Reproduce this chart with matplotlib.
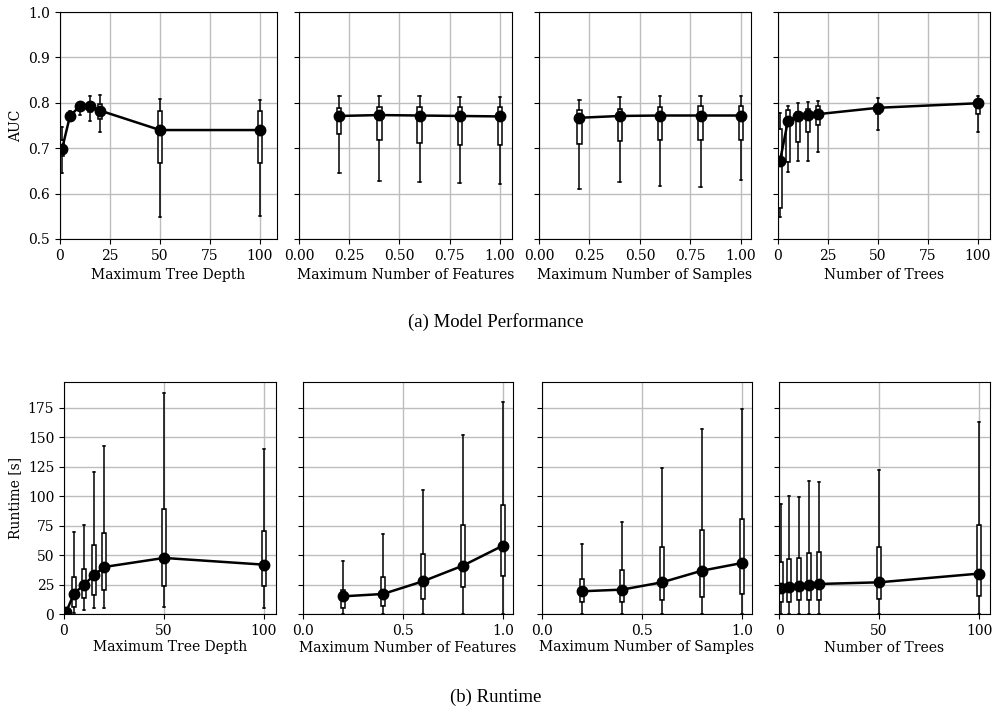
import numpy as np
import matplotlib.pyplot as plt
from matplotlib.ticker import FormatStrFormatter

plt.rcParams['font.family'] = 'DejaVu Serif'
plt.rcParams['font.size'] = 10

# hyperparameter values on the x axes
depth = [1, 5, 10, 15, 20, 50, 100]
frac = [0.2, 0.4, 0.6, 0.8, 1.0]
trees = [1, 5, 10, 15, 20, 50, 100]

# AUC: centre value, box (q1, q3), whiskers (lo, hi)
auc_depth = [0.698, 0.771, 0.793, 0.793, 0.783, 0.740, 0.740]
auc_depth_q1 = [0.683, 0.765, 0.785, 0.780, 0.764, 0.668, 0.668]
auc_depth_q3 = [0.718, 0.778, 0.798, 0.800, 0.797, 0.783, 0.783]
auc_depth_lo = [0.646, 0.760, 0.773, 0.760, 0.736, 0.548, 0.550]
auc_depth_hi = [0.747, 0.782, 0.800, 0.816, 0.817, 0.808, 0.806]

auc_feat = [0.771, 0.773, 0.772, 0.771, 0.770]
auc_feat_q1 = [0.731, 0.717, 0.711, 0.708, 0.706]
auc_feat_q3 = [0.789, 0.791, 0.791, 0.791, 0.791]
auc_feat_lo = [0.646, 0.628, 0.626, 0.624, 0.621]
auc_feat_hi = [0.816, 0.814, 0.815, 0.813, 0.812]

auc_samp = [0.767, 0.771, 0.772, 0.772, 0.772]
auc_samp_q1 = [0.709, 0.715, 0.717, 0.717, 0.718]
auc_samp_q3 = [0.784, 0.787, 0.791, 0.793, 0.793]
auc_samp_lo = [0.610, 0.625, 0.617, 0.614, 0.630]
auc_samp_hi = [0.806, 0.812, 0.814, 0.816, 0.816]

auc_trees = [0.672, 0.761, 0.771, 0.773, 0.775, 0.789, 0.799]
auc_trees_q1 = [0.568, 0.670, 0.713, 0.736, 0.751, 0.775, 0.775]
auc_trees_q3 = [0.742, 0.784, 0.780, 0.786, 0.792, 0.795, 0.807]
auc_trees_lo = [0.549, 0.648, 0.672, 0.672, 0.692, 0.740, 0.736]
auc_trees_hi = [0.777, 0.794, 0.799, 0.802, 0.805, 0.811, 0.815]

# runtime in seconds
rt_depth = [1.4, 17.3, 24.9, 32.9, 39.9, 47.6, 41.9]
rt_depth_q1 = [0.5, 5.7, 13.3, 15.9, 20.7, 23.8, 23.8]
rt_depth_q3 = [2.5, 31.4, 38.2, 58.3, 68.8, 89.5, 70.2]
rt_depth_lo = [0.0, 0.5, 3.1, 5.1, 4.8, 6.2, 4.8]
rt_depth_hi = [4.0, 69.7, 75.3, 120.4, 142.4, 187.8, 140.2]

rt_feat = [15.0, 17.0, 27.8, 41.1, 58.1]
rt_feat_q1 = [5.1, 7.1, 12.7, 23.2, 32.0]
rt_feat_q3 = [20.7, 31.7, 51.0, 75.3, 92.9]
rt_feat_lo = [0.0, 0.0, 0.0, 0.0, 0.0]
rt_feat_hi = [44.7, 67.7, 105.1, 152.1, 180.1]

rt_samp = [19.3, 20.7, 26.9, 36.8, 43.3]
rt_samp_q1 = [10.2, 9.9, 11.6, 14.2, 17.3]
rt_samp_q3 = [30.0, 37.1, 56.9, 71.6, 80.7]
rt_samp_lo = [0.0, 0.0, 0.0, 0.0, 0.0]
rt_samp_hi = [59.8, 78.4, 123.8, 157.2, 174.4]

rt_trees = [22.1, 22.7, 24.1, 24.6, 25.5, 26.9, 34.3]
rt_trees_q1 = [10.2, 10.2, 11.6, 11.6, 12.2, 13.0, 15.6]
rt_trees_q3 = [43.9, 47.0, 47.6, 51.8, 52.4, 56.9, 75.6]
rt_trees_lo = [0.0, 0.0, 0.0, 0.0, 0.0, 0.0, 0.0]
rt_trees_hi = [93.2, 100.0, 99.4, 112.7, 111.9, 122.6, 163.4]

xlabels = ['Maximum Tree Depth', 'Maximum Number of Features',
           'Maximum Number of Samples', 'Number of Trees']

W, H = 992, 708
fig = plt.figure(figsize=(W / 100, H / 100), dpi=100)


def rect(x0, x1, top, bottom):
    return [x0 / W, 1 - bottom / H, (x1 - x0) / W, (bottom - top) / H]


def panel(ax, xs, mid, q1, q3, lo, hi, width):
    stats = []
    for i in range(len(xs)):
        stats.append(dict(med=mid[i], q1=q1[i], q3=q3[i],
                          whislo=lo[i], whishi=hi[i], fliers=[]))
    ax.bxp(stats, positions=xs, widths=width, showfliers=False,
           patch_artist=True, manage_ticks=False,
           boxprops=dict(facecolor='white', edgecolor='black', linewidth=1.1),
           whiskerprops=dict(color='black', linewidth=1.1),
           capprops=dict(color='black', linewidth=1.1),
           medianprops=dict(color='black', linewidth=1.1),
           capwidths=width * 0.6)
    ax.plot(xs, mid, '-o', color='black', lw=1.8, ms=7.5, zorder=5)
    ax.grid(True, color='#bdbdbd', linewidth=1.0)
    ax.set_axisbelow(True)


top_rects = [rect(60, 277, 12, 239), rect(299, 512, 12, 239),
             rect(539, 751, 12, 239), rect(778, 990, 12, 239)]
bot_rects = [rect(64, 276, 382, 614), rect(303, 513, 382, 614),
             rect(542, 752, 382, 614), rect(779, 990, 382, 614)]

top_data = [
    (depth, auc_depth, auc_depth_q1, auc_depth_q3, auc_depth_lo, auc_depth_hi, 2.2, (0, 108.5)),
    (frac, auc_feat, auc_feat_q1, auc_feat_q3, auc_feat_lo, auc_feat_hi, 0.022, (0, 1.06)),
    (frac, auc_samp, auc_samp_q1, auc_samp_q3, auc_samp_lo, auc_samp_hi, 0.022, (0, 1.05)),
    (trees, auc_trees, auc_trees_q1, auc_trees_q3, auc_trees_lo, auc_trees_hi, 2.2, (0, 106)),
]
bot_data = [
    (depth, rt_depth, rt_depth_q1, rt_depth_q3, rt_depth_lo, rt_depth_hi, 2.2, (0, 106)),
    (frac, rt_feat, rt_feat_q1, rt_feat_q3, rt_feat_lo, rt_feat_hi, 0.022, (0, 1.05)),
    (frac, rt_samp, rt_samp_q1, rt_samp_q3, rt_samp_lo, rt_samp_hi, 0.022, (0, 1.05)),
    (trees, rt_trees, rt_trees_q1, rt_trees_q3, rt_trees_lo, rt_trees_hi, 2.2, (0, 105.5)),
]

# (a) model performance
for i, (r, d) in enumerate(zip(top_rects, top_data)):
    ax = fig.add_axes(r)
    xs, mid, q1, q3, lo, hi, w, xl = d
    panel(ax, xs, mid, q1, q3, lo, hi, w)
    ax.set_xlim(*xl)
    ax.set_ylim(0.5, 1.0)
    ax.set_yticks(np.arange(0.5, 1.01, 0.1))
    if xl[1] < 2:
        ax.set_xticks([0, 0.25, 0.5, 0.75, 1.0])
        ax.xaxis.set_major_formatter(FormatStrFormatter('%.2f'))
    else:
        ax.set_xticks([0, 25, 50, 75, 100])
    ax.set_xlabel(xlabels[i])
    if i == 0:
        ax.set_ylabel('AUC')
    else:
        ax.set_yticklabels([])

# (b) runtime
for i, (r, d) in enumerate(zip(bot_rects, bot_data)):
    ax = fig.add_axes(r)
    xs, mid, q1, q3, lo, hi, w, xl = d
    panel(ax, xs, mid, q1, q3, lo, hi, w)
    ax.set_xlim(*xl)
    ax.set_ylim(0, 197)
    ax.set_yticks(np.arange(0, 176, 25))
    if xl[1] < 2:
        ax.set_xticks([0, 0.5, 1.0])
        ax.xaxis.set_major_formatter(FormatStrFormatter('%.1f'))
    else:
        ax.set_xticks([0, 50, 100])
    ax.set_xlabel(xlabels[i], labelpad=2)
    if i == 0:
        ax.set_ylabel('Runtime [s]')
    else:
        ax.set_yticklabels([])

fig.text(0.5, 1 - 322 / H, '(a) Model Performance', ha='center', va='center',
         family='Liberation Serif', fontsize=13.5)
fig.text(0.5, 1 - 697 / H, '(b) Runtime', ha='center', va='center',
         family='Liberation Serif', fontsize=13.5)

fig.savefig('out.png', dpi=100)
